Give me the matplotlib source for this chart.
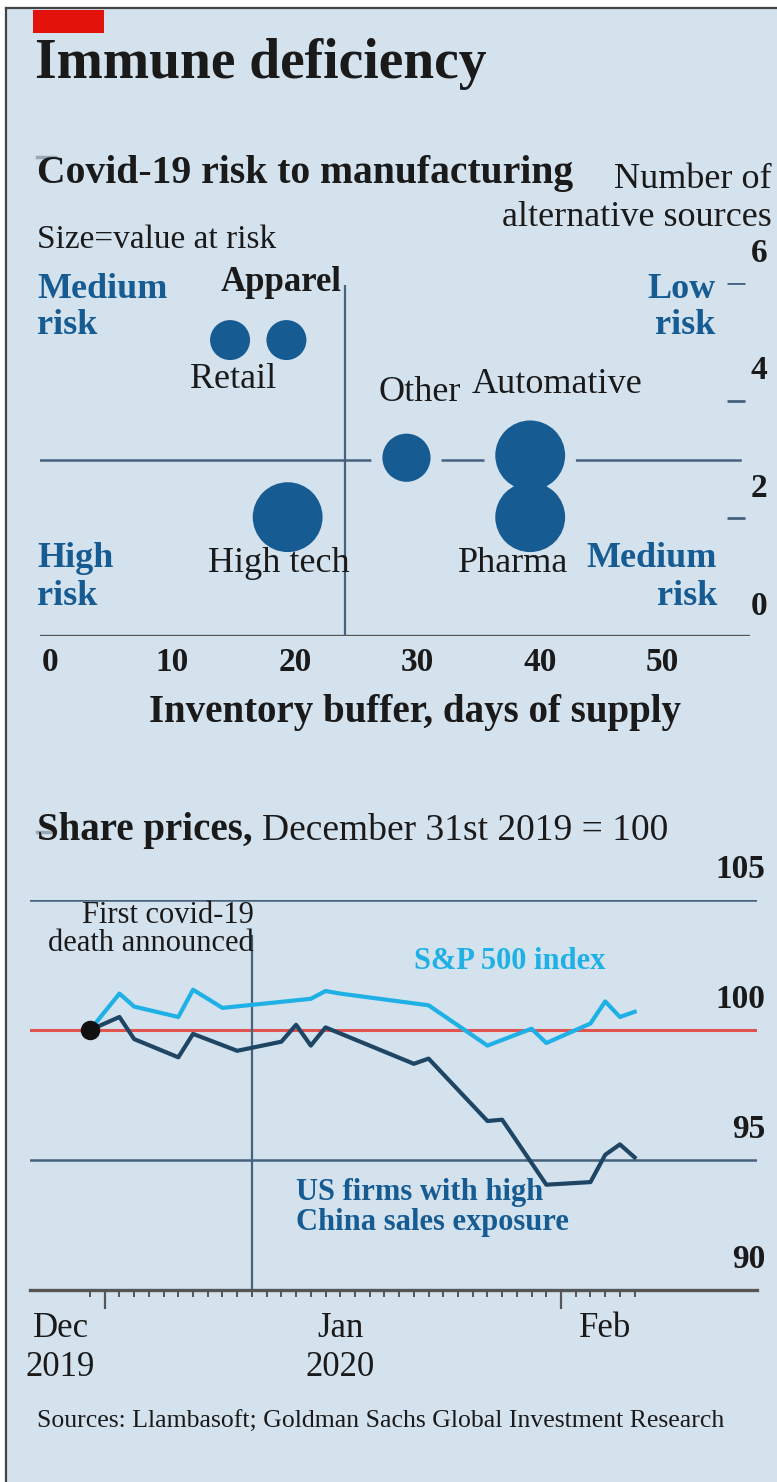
"""
Immune deficiency: Covid-19 risk to manufacturing (bubble chart)
and share prices of US firms with high China exposure vs S&P 500.
"""
import matplotlib
matplotlib.use("Agg")
import matplotlib.dates as mdates
import matplotlib.pyplot as plt
import numpy as np
import pandas as pd
from matplotlib.lines import Line2D
from matplotlib.patches import Rectangle

plt.rcParams["font.family"] = ["Liberation Serif", "DejaVu Serif"]

# ---- data: bubble chart ----
sectors = ["Apparel", "Retail", "Other", "Automative", "Pharma", "High tech"]
inventory_days = [19.3, 14.7, 29.1, 39.2, 39.2, 19.4]
alt_sources = [5.03, 5.03, 3.03, 3.07, 2.02, 2.02]
value_at_risk = [1.0, 1.0, 1.45, 3.05, 3.05, 3.05]  # relative
x_ticks = [0, 10, 20, 30, 40, 50]
y_ticks = [0, 2, 4, 6]

# ---- data: share prices, Dec 31st 2019 = 100 ----
sp_dates = ["2019-12-31", "2020-01-02", "2020-01-03", "2020-01-06", "2020-01-07",
            "2020-01-09", "2020-01-15", "2020-01-16", "2020-01-17", "2020-01-23",
            "2020-01-27", "2020-01-30", "2020-01-31", "2020-02-03", "2020-02-04",
            "2020-02-05", "2020-02-06"]
sp_values = [100, 101.4, 100.9, 100.5, 101.55, 100.85, 101.2, 101.5, 101.4, 100.95,
             99.4, 100.05, 99.5, 100.25, 101.1, 100.5, 100.7]
china_dates = ["2019-12-31", "2020-01-02", "2020-01-03", "2020-01-06", "2020-01-07",
               "2020-01-10", "2020-01-13", "2020-01-14", "2020-01-15", "2020-01-16",
               "2020-01-22", "2020-01-23", "2020-01-27", "2020-01-28", "2020-01-31",
               "2020-02-03", "2020-02-04", "2020-02-05", "2020-02-06"]
china_values = [100, 100.5, 99.65, 98.95, 99.85, 99.2, 99.55, 100.2, 99.4, 100.1,
                98.7, 98.9, 96.5, 96.55, 94.05, 94.15, 95.2, 95.6, 95.1]
first_death = "2020-01-11"
price_ticks = [90, 95, 100, 105]
month_labels = ["Dec\n2019", "Jan\n2020", "Feb"]
month_label_dates = ["2019-12-29", "2020-01-17", "2020-02-04"]

# ---- style ----
BG = "#d4e2ee"
BLUE = "#175b93"
CYAN = "#1fb0e6"
NAVY = "#1e4664"
GRID = "#46627d"
RED = "#e0534f"
INK = "#1a1a1a"
AXIS = "#555555"

W, H = 777, 1482


def fx(px):
    return px / W


def fy(py):
    return 1 - py / H


fig = plt.figure(figsize=(W / 100, H / 100), dpi=100, facecolor="white")
fig.add_artist(Rectangle((fx(6), 0), 1 - fx(6), fy(8), transform=fig.transFigure,
                         facecolor=BG, edgecolor="none", zorder=-10))
fig.add_artist(Line2D([fx(6), 1], [fy(8), fy(8)], color="#444444", lw=1.6))
fig.add_artist(Line2D([fx(6), fx(6)], [0, fy(8)], color="#444444", lw=1.6))
fig.add_artist(Rectangle((fx(33), fy(33)), fx(104) - fx(33), fy(10) - fy(33),
                         transform=fig.transFigure, facecolor="#e3120b", edgecolor="none"))

fig.text(fx(35), fy(78), "Immune deficiency", fontsize=40, fontweight="bold",
         color=INK, va="baseline")

# ============ top: bubble chart ============
fig.add_artist(Line2D([fx(37), fx(55)], [fy(157), fy(157)], color="#9aa8b4", lw=2.5))
fig.text(fx(37), fy(183), "Covid-19 risk to manufacturing", fontsize=28.5,
         fontweight="bold", color=INK, va="baseline")
fig.text(fx(772), fy(188), "Number of", fontsize=26, color=INK, ha="right", va="baseline")
fig.text(fx(772), fy(226), "alternative sources", fontsize=26, color=INK,
         ha="right", va="baseline")
fig.text(fx(37), fy(248), "Size=value at risk", fontsize=24, color=INK, va="baseline")

ax1 = fig.add_axes([fx(40), fy(636), fx(750) - fx(40), fy(283) - fy(636)])
ax1.set_xlim((40 - 50) / 12.25, (750 - 50) / 12.25)
ax1.set_ylim(0, 6)
ax1.axis("off")
ax1.patch.set_visible(False)

ax1.axhline(0, color=AXIS, lw=2.4, zorder=1)
ax1.axhline(3, xmax=0.986, color=GRID, lw=1.8, zorder=1)
ax1.vlines(24.1, 0, 5.97, color=GRID, lw=1.6, zorder=1)
ax1.hlines([2, 4, 6], 55.3, 56.7, color=GRID, lw=2, zorder=1)

sizes = np.array(value_at_risk) * 829.0
halo = (np.sqrt(sizes) + 16) ** 2
ax1.scatter(inventory_days, alt_sources, s=halo, color=BG, linewidths=0, zorder=2,
            clip_on=False)
ax1.scatter(inventory_days, alt_sources, s=sizes, color=BLUE, linewidths=0, zorder=3,
            clip_on=False)

Y1 = ax1.get_yaxis_transform()
for v in y_ticks:
    ax1.text((767 - 40) / 710, v + 0.365, str(v), transform=Y1, ha="right",
             va="baseline", fontsize=24, fontweight="bold", color=INK)
for v in x_ticks:
    ax1.text(v, -0.6, str(v), ha="center", va="baseline", fontsize=24,
             fontweight="bold", color=INK)
ax1.text(29.8, -1.47, "Inventory buffer, days of supply", ha="center", va="baseline",
         fontsize=28, fontweight="bold", color=INK)

# sector labels
ax1.text(13.9, 5.86, "Apparel", fontsize=25, fontweight="bold", color=INK, va="baseline")
ax1.text(11.4, 4.22, "Retail", fontsize=26, color=INK, va="baseline")
ax1.text(26.8, 3.99, "Other", fontsize=26, color=INK, va="baseline")
ax1.text(34.4, 4.13, "Automative", fontsize=26, color=INK, va="baseline")
ax1.text(12.9, 1.09, "High tech", fontsize=26, color=INK, va="baseline")
ax1.text(33.3, 1.09, "Pharma", fontsize=26, color=INK, va="baseline")

# quadrant labels
quad = dict(fontsize=26, fontweight="bold", color=BLUE, va="baseline")
ax1.text(-1.06, 5.75, "Medium", **quad)
ax1.text(-1.06, 5.14, "risk", **quad)
ax1.text(54.3, 5.75, "Low", ha="right", **quad)
ax1.text(54.3, 5.14, "risk", ha="right", **quad)
ax1.text(-1.06, 1.17, "High", **quad)
ax1.text(-1.06, 0.53, "risk", **quad)
ax1.text(54.45, 1.17, "Medium", ha="right", **quad)
ax1.text(54.45, 0.53, "risk", ha="right", **quad)

# ============ bottom: share prices ============
fig.add_artist(Line2D([fx(37), fx(55)], [fy(832), fy(832)], color="#9aa8b4", lw=2.5))
fig.text(fx(37), fy(840), "Share prices,", fontsize=28, fontweight="bold", color=INK,
         va="baseline")
fig.text(fx(262), fy(840), "December 31st 2019 = 100", fontsize=27, color=INK,
         va="baseline")

base = mdates.date2num(pd.Timestamp("2019-12-31"))
ax2 = fig.add_axes([fx(30), fy(1290), fx(757) - fx(30), fy(900) - fy(1290)])
ax2.set_xlim(base + (30 - 90) / 14.72, base + (757 - 90) / 14.72)
ax2.set_ylim(90, 105)
ax2.patch.set_visible(False)
for side in ["top", "left", "right"]:
    ax2.spines[side].set_visible(False)
ax2.spines["bottom"].set_color(AXIS)
ax2.spines["bottom"].set_linewidth(2.4)
ax2.set_yticks([])
ax2.set_xticks(mdates.date2num(pd.to_datetime(["2020-01-01", "2020-02-01"])))
ax2.set_xticks(mdates.date2num(pd.date_range("2019-12-31", "2020-02-06")), minor=True)
ax2.tick_params(axis="x", which="major", length=14, width=1.6, color=AXIS,
                labelbottom=False)
ax2.tick_params(axis="x", which="minor", length=5, width=1.4, color=AXIS,
                labelbottom=False)

ax2.axhline(105, color=GRID, lw=1.8, zorder=1)
ax2.axhline(95, color=GRID, lw=1.8, zorder=1)
ax2.axhline(100, color=RED, lw=2.2, zorder=1)
ev = mdates.date2num(pd.Timestamp(first_death))
ax2.vlines(ev, 90, 103.65, color=GRID, lw=1.6, zorder=1)

ax2.plot(mdates.date2num(pd.to_datetime(sp_dates)), sp_values, color=CYAN, lw=3,
         zorder=3)
ax2.plot(mdates.date2num(pd.to_datetime(china_dates)), china_values, color=NAVY, lw=3,
         zorder=3)
ax2.plot(base, 100, "o", ms=13, color="#111111", zorder=4)

Y2 = ax2.get_yaxis_transform()
for v in price_ticks:
    ax2.text((765 - 30) / 727, v + 0.85, str(v), transform=Y2, ha="right",
             va="baseline", fontsize=24, fontweight="bold", color=INK)

ax2.text(ev + 0.15, 104.12, "First covid-19", ha="right", va="baseline", fontsize=22,
         color=INK)
ax2.text(ev + 0.15, 103.04, "death announced", ha="right", va="baseline", fontsize=22,
         color=INK)
ax2.text(base + 28.5, 102.35, "S&P 500 index", ha="center", va="baseline", fontsize=22,
         fontweight="bold", color=CYAN)
ax2.text(base + 14.0, 93.46, "US firms with high", va="baseline", fontsize=22,
         fontweight="bold", color=BLUE)
ax2.text(base + 14.0, 92.31, "China sales exposure", va="baseline", fontsize=22,
         fontweight="bold", color=BLUE)

for lab, d in zip(month_labels, month_label_dates):
    x = mdates.date2num(pd.Timestamp(d))
    for i, part in enumerate(lab.split("\n")):
        ax2.text(x, 88.19 - 1.5 * i, part, ha="center", va="baseline", fontsize=25,
                 color=INK)

fig.text(fx(37), fy(1428), "Sources: Llambasoft; Goldman Sachs Global Investment Research",
         fontsize=18.5, color=INK, va="baseline")

fig.savefig("out.png", dpi=100, facecolor=fig.get_facecolor())
